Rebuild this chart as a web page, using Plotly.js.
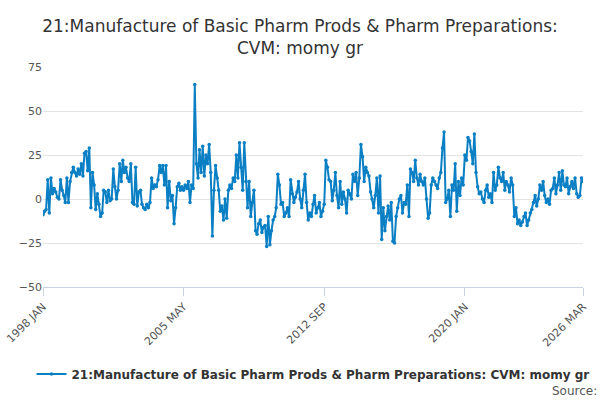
<!DOCTYPE html>
<html><head><meta charset="utf-8">
<script src="https://cdn.plot.ly/plotly-3.0.1.min.js"></script>
<style>body{margin:0}#c{width:600px;height:400px}</style></head>
<body><div id="c"></div>
<script>
const startYear = 1998;
const values = [
-9,-7,-6,11,-8,12,3,6,4,1,0,11,
5,2,-2,12,-2,10,15,18,15,13,17,14,
20,13,26,27,16,29,-5,15,8,-6,3,-3,
-10,-8,5,4,-2,5,-1,0,17,7,0,5,
20,10,22,15,18,12,10,20,-2,-3,18,-4,
4,5,-3,-5,-6,-3,-5,-2,12,6,8,7,
11,19,15,19,8,19,-5,10,-1,2,-14,-5,
7,9,5,7,5,8,6,10,-2,8,6,65,
20,12,28,15,30,13,25,20,31,15,-21,5,
19,12,5,-7,-4,-12,0,-11,5,8,6,12,
10,25,12,32,18,5,32,10,-5,10,-10,-2,
5,-18,-20,-14,-12,-19,-16,-15,-27,-10,-26,-18,
-12,-10,-5,14,8,-3,-2,-10,-8,-5,-10,11,
3,-2,1,4,10,0,-5,5,14,-2,-12,-8,
-10,-3,2,-8,-5,-2,-10,-7,-3,22,18,11,
10,-1,5,15,2,-5,10,-3,4,0,-8,5,
3,0,14,10,15,2,12,31,24,10,18,15,
13,4,0,-5,2,12,-8,13,-23,-5,-18,-10,
-4,-12,-2,-24,-25,-10,-5,0,2,-8,-2,-3,
8,-10,17,15,10,22,12,8,14,10,8,12,
0,-11,-8,8,12,10,8,6,12,15,29,38,
-2,0,5,-10,8,5,20,-7,10,2,12,8,
25,22,35,33,27,20,37,15,7,3,4,0,
-2,5,8,1,3,-2,15,5,8,18,12,10,
15,5,10,8,4,12,8,-10,-5,-14,-12,-15,
-13,-10,-8,-15,-12,-8,-6,-2,2,-4,0,8,
5,10,2,-2,0,-3,5,6,12,3,8,15,
5,16,8,7,12,3,7,10,6,12,3,1,
2,12,10];
const tickVals = ["1998-01-01","2005-05-01","2012-09-01","2020-01-01","2026-03-01"];
const tickText = ["1998 JAN","2005 MAY","2012 SEP","2020 JAN","2026 MAR"];
const seriesName = "21:Manufacture of Basic Pharm Prods & Pharm Preparations: CVM: momy gr";
const dates = values.map((v,i)=>{const y=startYear+Math.floor(i/12), m=i%12+1; return y+"-"+String(m).padStart(2,"0")+"-01";});
Plotly.newPlot("c",[{x:dates,y:values,type:"scatter",mode:"lines+markers",name:"<b>"+seriesName+"</b>",
 line:{color:"#0a7fc4",width:2},marker:{color:"#0a7fc4",size:3.5}}],{
 width:600,height:400,margin:{l:43,r:17,t:67,b:107},
 font:{family:"DejaVu Sans",color:"#333"},
 title:{text:"21:Manufacture of Basic Pharm Prods & Pharm Preparations:<br>CVM: momy gr",font:{size:17,color:"#333"},x:0.5,xanchor:"center",y:0.92,yanchor:"middle"},
 xaxis:{type:"date",range:["1998-01-01","2026-03-01"],tickvals:tickVals,ticktext:tickText,tickangle:-45,tickfont:{size:11,color:"#555"},
  showgrid:false,showline:true,linecolor:"#c8d4e3",ticks:"outside",ticklen:8,tickcolor:"#c8d4e3"},
 yaxis:{range:[-50,75],tickvals:[-50,-25,0,25,50,75],tickfont:{size:11,color:"#555"},gridcolor:"#e3e3e3",zeroline:false,fixedrange:true},
 showlegend:true,legend:{orientation:"h",x:0.5,xanchor:"center",y:-0.33,yanchor:"top",font:{size:12,color:"#333"}},
 annotations:[{text:"Source:",xref:"paper",yref:"paper",x:1.03,y:-0.43,xanchor:"right",yanchor:"top",showarrow:false,font:{size:12,color:"#555"}}],
 plot_bgcolor:"#fff",paper_bgcolor:"#fff"
},{displayModeBar:false,staticPlot:true});
</script></body></html>
